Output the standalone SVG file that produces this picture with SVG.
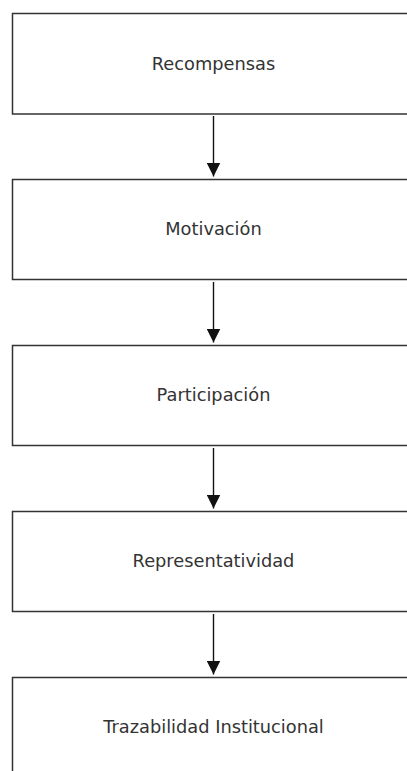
<svg xmlns="http://www.w3.org/2000/svg" width="407" height="771" viewBox="0 0 407 771">
<style>
.box{fill:#ffffff;stroke:#333333;stroke-width:1.5}
.lbl{font-family:"DejaVu Sans",sans-serif;font-size:17.8px;fill:#333333;text-anchor:middle}
.edge{stroke:#111111;stroke-width:1.4;fill:none}
</style>
<defs>
<marker id="ah" viewBox="0 0 14 14" refX="14" refY="7" markerWidth="14" markerHeight="14" markerUnits="userSpaceOnUse" orient="auto">
<path d="M0,0 L14,7 L0,14 Z" fill="#111111"/>
</marker>
</defs>
<rect width="407" height="771" fill="#ffffff"/>
<g id="n1"><rect class="box" x="12.5" y="13.5" width="402" height="100.5"/><text class="lbl" x="213.5" y="69.5">Recompensas</text></g>
<g id="n2"><rect class="box" x="12.5" y="179.5" width="402" height="100"/><text class="lbl" x="213.5" y="235">Motivación</text></g>
<g id="n3"><rect class="box" x="12.5" y="345.5" width="402" height="100"/><text class="lbl" x="213.5" y="401">Participación</text></g>
<g id="n4"><rect class="box" x="12.5" y="511.5" width="402" height="100"/><text class="lbl" x="213.5" y="567">Representatividad</text></g>
<g id="n5"><rect class="box" x="12.5" y="677.5" width="402" height="110"/><text class="lbl" x="213.5" y="733">Trazabilidad Institucional</text></g>
<g id="edges">
<line class="edge" x1="213.5" y1="116" x2="213.5" y2="176.5" marker-end="url(#ah)"/>
<line class="edge" x1="213.5" y1="282" x2="213.5" y2="342.5" marker-end="url(#ah)"/>
<line class="edge" x1="213.5" y1="448" x2="213.5" y2="508.5" marker-end="url(#ah)"/>
<line class="edge" x1="213.5" y1="614" x2="213.5" y2="674.5" marker-end="url(#ah)"/>
</g>
</svg>
